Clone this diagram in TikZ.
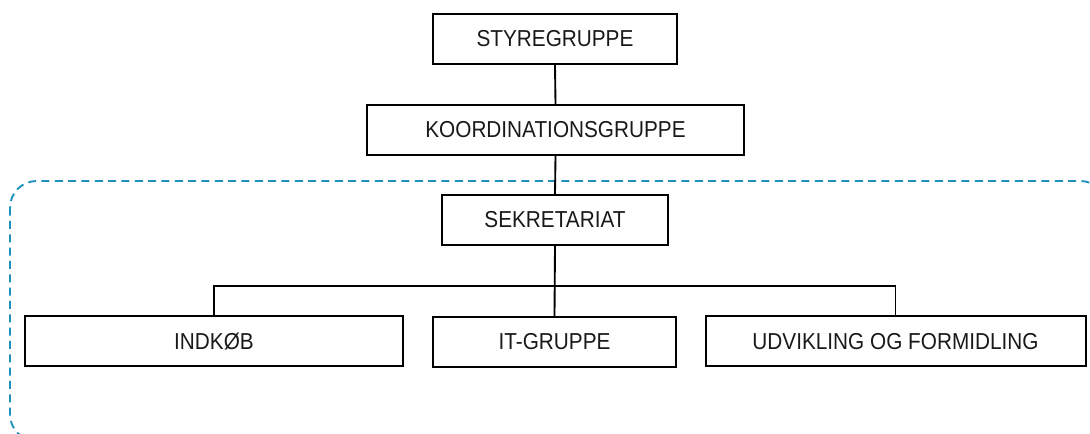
\documentclass[tikz,border=0pt]{standalone}
\usepackage{fontspec}
\setmainfont{Liberation Sans}[FakeStretch=0.9]
\begin{document}
\begin{tikzpicture}[x=0.75pt,y=-0.75pt,
  orgbox/.style={draw=black,line width=1.5pt,rectangle,minimum height=37.5pt,inner sep=0pt,font=\fontsize{17.3}{20}\selectfont,text=black!90},
  conn/.style={draw=black,line width=1.4pt},
  groupframe/.style={draw={rgb,255:red,30;green,144;blue,190},line width=1.4pt,dash pattern=on 6pt off 4pt,rounded corners=20pt}]
\useasboundingbox (0,0) rectangle (1090,434);
\clip (0,0) rectangle (1090,434);
\draw[groupframe] (10,181) rectangle (1107,441);
\node[orgbox,minimum width=183pt] (sty) at (555,39) {STYREGRUPPE};
\node[orgbox,minimum width=283pt] (koo) at (555.5,130) {KOORDINATIONSGRUPPE};
\node[orgbox,minimum width=170pt] (sek) at (555,220) {SEKRETARIAT};
\node[orgbox,minimum width=283.5pt] (ind) at (214,341.5) {INDKØB};
\node[orgbox,minimum width=182pt] (itg) at (554.5,342) {IT-GRUPPE};
\node[orgbox,minimum width=285pt] (udv) at (895.5,341.5) {UDVIKLING OG FORMIDLING};
\coordinate (bus) at (555,286);
\draw[conn] (sty.south) -- (koo.north);
\draw[conn] (koo.south) -- (sek.north);
\draw[conn] (sek.south) -- (itg.north);
\draw[conn] (ind.north) |- (bus) -| (udv.north);
\end{tikzpicture}
\end{document}
